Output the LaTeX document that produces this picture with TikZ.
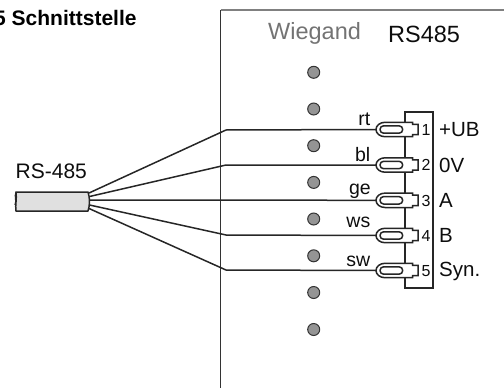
\documentclass[tikz,border=0pt]{standalone}
\usepackage{fontspec}
\setmainfont{Liberation Sans}
\newcommand{\fs}[1]{\fontsize{#1}{#1}\selectfont}
\tikzset{
  px/.style={x=1pt,y=-1pt},
  wire/.style={line width=1.5pt,draw=black!85},
  led/.style={circle,draw=black!80,fill=black!42,line width=1pt,minimum size=12pt,inner sep=0pt},
  wlabel/.style={anchor=base east,inner sep=0pt,font=\fs{19.5},text=black!95},
  tlabel/.style={anchor=base west,inner sep=0pt,font=\fs{20.5},text=black!95},
  numlabel/.style={anchor=center,inner sep=0pt,font=\fs{16},text=black!95},
  termline/.style={line width=1.5pt,draw=black!85,fill=white},
  headtext/.style={anchor=base west,inner sep=0pt},
}
\newcommand{\terminal}[2]{%
  \coordinate (t#1) at (376,#2);
  \draw[termline] (385,#2-7.2) -- (412.7,#2-7.2) -- (412.7,#2-5.2) -- (418,#2-5.2) -- (418,#2+5.2) -- (412.7,#2+5.2) -- (412.7,#2+7.2) -- (385,#2+7.2)
     arc[start angle=90,end angle=270,x radius=9pt,y radius=-7.2pt] -- cycle;
  \draw[line width=1.5pt,draw=black!85,rounded corners=3.6pt] (380,#2-3.7) rectangle (402.7,#2+3.7);
}
\begin{document}
\begin{tikzpicture}[px]
\useasboundingbox (0,0) rectangle (504,388);
% housing
\draw[line width=1.6pt,draw=black!50] (220.5,10) -- (504,10);
\draw[line width=1.3pt,draw=black!80] (220.5,10) -- (220.5,388);
% title, cut off by the left edge
\begin{scope}
\clip (0,0) rectangle (504,388);
\node[headtext,font=\bfseries\fs{21}] (title) at (-6,25) {5 Schnittstelle};
\end{scope}
\node[headtext,font=\fs{23.5},text=black!55] (wiegand) at (268,39) {Wiegand};
\node[headtext,font=\fs{23.5},text=black!95] (rs485) at (388,42) {RS485};
\node[headtext,font=\fs{21},text=black!95] (cablelabel) at (15.5,178) {RS-485};
% LEDs
\foreach \i/\y in {1/72.3,2/109,3/145.7,4/182.4,5/219,6/255.8,7/292.5,8/329.5}
  \node[led] (led\i) at (313.7,\y) {};
% connector block
\draw[line width=1.4pt,draw=black!85] (405,112) rectangle (433,288);
\foreach \n/\y in {1/129.5,2/165,3/200.3,4/235.5,5/270.5}{\terminal{\n}{\y}}
% cable
\coordinate (c1) at (89,193);
\coordinate (c2) at (89.5,196.5);
\coordinate (c3) at (90,200);
\coordinate (c4) at (89.5,205);
\coordinate (c5) at (89,208.5);
\draw[line width=1.5pt,draw=black!85,fill=black!12,line join=round]
  (16,192) -- (88,192) .. controls (90,198) and (90,205) .. (88,211) -- (16,211)
  .. controls (15,205) and (17,199) .. (16,192) -- cycle;
\draw[line width=1.2pt,draw=black!85] (16,192) .. controls (14,197) and (17,200) .. (15,205);
% wires
\draw[wire] (c1) -- (226,130) -- (t1);
\draw[wire] (c2) -- (226,165) -- (t2);
\draw[wire] (c3) -- (t3);
\draw[wire] (c4) -- (226,235) -- (t4);
\draw[wire] (c5) -- (226,270) -- (t5);
% wire colours
\node[wlabel] (lrt) at (370.5,125.5) {rt};
\node[wlabel] (lbl) at (370.5,161.5) {bl};
\node[wlabel] (lge) at (371,194) {ge};
\node[wlabel] (lws) at (370.5,227.5) {ws};
\node[wlabel] (lsw) at (370.5,266.5) {sw};
% pin numbers
\node[numlabel] (n1) at (426,129.5) {1};
\node[numlabel] (n2) at (426,165) {2};
\node[numlabel] (n3) at (426,200.5) {3};
\node[numlabel] (n4) at (426,235.5) {4};
\node[numlabel] (n5) at (426,271) {5};
% signal names
\node[tlabel] (s1) at (439,136) {+UB};
\node[tlabel] (s2) at (439,172) {0V};
\node[tlabel] (s3) at (439,207) {A};
\node[tlabel] (s4) at (439,242) {B};
\node[tlabel] (s5) at (439,276) {Syn.};
\end{tikzpicture}
\end{document}
